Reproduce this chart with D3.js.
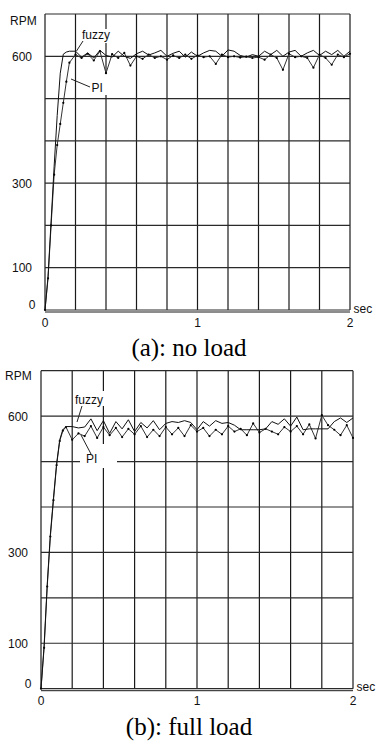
<!DOCTYPE html>
<html>
<head>
<meta charset="utf-8">
<script src="https://cdn.jsdelivr.net/npm/d3@7"></script>
<style>
body{margin:0;background:#fff}
svg{display:block}
.lbl{font-family:"Liberation Sans",Arial,sans-serif;font-size:12px;fill:#111}
.cap{font-family:"Liberation Serif","Times New Roman",serif;font-size:25px;fill:#000}
</style>
</head>
<body>
<script>
// sample times (sec), shared by all four curves
var times = [0,0.02,0.04,0.06,0.08,0.1,0.12,0.14,0.16,
  0.2,0.24,0.28,0.32,0.36,0.4,0.44,0.48,0.52,0.56,0.6,0.64,0.68,0.72,0.76,0.8,0.84,0.88,0.92,0.96,
  1,1.04,1.08,1.12,1.16,1.2,1.24,1.28,1.32,1.36,1.4,1.44,1.48,1.52,1.56,1.6,1.64,1.68,1.72,1.76,
  1.8,1.84,1.88,1.92,1.96,2]

// (a) no load, RPM
var fuzzyNoLoad = [0,80,210,340,460,560,605,610,612,
  612,598,608,596,614,602,598,612,600,595,606,612,603,608,614,600,607,612,598,610,
  600,608,614,612,600,615,612,602,598,604,600,612,604,614,600,610,614,600,608,614,
  602,612,604,614,600,612]
var piNoLoad = [0,75,200,320,390,440,490,540,585,
  604,596,606,590,612,560,605,596,608,578,600,594,604,596,600,592,602,596,604,594,
  602,598,600,582,604,598,600,597,599,596,598,592,604,596,568,606,598,600,596,573,
  604,596,580,604,598,606]

// (b) full load, RPM
var fuzzyFullLoad = [0,95,230,340,420,495,548,570,577,
  577,574,576,594,568,590,562,588,572,592,566,586,574,590,570,584,588,586,590,586,
  570,588,578,590,584,586,580,570,570,570,570,572,588,582,594,578,598,570,572,572,
  572,572,588,596,586,596]
var piFullLoad = [0,90,225,335,415,492,545,568,576,
  548,562,556,578,552,576,558,574,554,572,560,578,554,570,556,576,560,574,556,580,
  566,574,556,570,560,578,566,572,558,584,564,572,566,560,576,566,578,560,582,551,
  602,580,570,558,580,552]

var rpmLabels = [100,300,600]
var secLabels = [0,1,2]

var svg = d3.select("body").append("svg")
  .attr("width",377)
  .attr("height",742);

function drawPanel(p) {
  var x = d3.scaleLinear().domain([0,2]).range([p.left,p.right]);
  var y = d3.scaleLinear().domain([0,700]).range([p.bottom,p.top]);
  var g = svg.append("g");

  //grid and frame
  g.selectAll(".vgrid")
    .data(x.ticks(10))
    .enter().append("line")
      .attr("x1",function(d){return x(d)})
      .attr("x2",function(d){return x(d)})
      .attr("y1",p.top)
      .attr("y2",p.bottom)
      .attr("stroke","#1a1a1a")
      .attr("stroke-width",1.2);

  g.selectAll(".hgrid")
    .data(y.ticks(7))
    .enter().append("line")
      .attr("x1",p.left)
      .attr("x2",p.right)
      .attr("y1",function(d){return y(d)})
      .attr("y2",function(d){return y(d)})
      .attr("stroke","#2a2a2a")
      .attr("stroke-width",1.2);

  g.append("line")
    .attr("x1",p.left).attr("x2",p.right)
    .attr("y1",y(0)+2).attr("y2",y(0)+2)
    .attr("stroke","#1a1a1a").attr("stroke-width",1);

  //white boxes under the curve labels
  [p.fuzzyBox,p.piBox].forEach(function(b){
    g.append("rect")
      .attr("x",b[0]).attr("y",b[1])
      .attr("width",b[2]).attr("height",b[3])
      .attr("fill","#fff");
  });

  var line = d3.line()
    .x(function(d,i){return x(times[i])})
    .y(function(d){return y(d)});

  g.append("path")
    .datum(p.pi)
    .attr("d",line)
    .attr("fill","none")
    .attr("stroke","#333")
    .attr("stroke-width",1);

  g.selectAll(".dot")
    .data(p.pi)
    .enter().append("circle")
      .attr("cx",function(d,i){return x(times[i])})
      .attr("cy",function(d){return y(d)})
      .attr("r",1.1)
      .attr("fill","#000");

  g.append("path")
    .datum(p.fuzzy)
    .attr("d",line)
    .attr("fill","none")
    .attr("stroke","#111")
    .attr("stroke-width",1);

  //leaders + names
  [p.fuzzyLeader,p.piLeader].forEach(function(l){
    g.append("line")
      .attr("x1",l[0][0]).attr("y1",l[0][1])
      .attr("x2",l[1][0]).attr("y2",l[1][1])
      .attr("stroke","#222").attr("stroke-width",1);
  });
  g.append("text").attr("class","lbl")
    .attr("x",p.fuzzyText[0]).attr("y",p.fuzzyText[1]).text("fuzzy");
  g.append("text").attr("class","lbl")
    .attr("x",p.piText[0]).attr("y",p.piText[1]).text("PI");

  //axis labels
  g.selectAll(".ylab")
    .data(rpmLabels)
    .enter().append("text")
      .attr("class","lbl")
      .attr("x",p.left-13)
      .attr("y",function(d){return y(d)+4.5})
      .style("text-anchor","end")
      .text(function(d){return d});

  g.append("text").attr("class","lbl")
    .attr("x",p.left-9.5).attr("y",y(0)-1)
    .style("text-anchor","end").text("0");

  g.append("text").attr("class","lbl")
    .attr("x",p.rpmPos[0]).attr("y",p.rpmPos[1]).text("RPM");

  g.selectAll(".xlab")
    .data(secLabels)
    .enter().append("text")
      .attr("class","lbl")
      .attr("x",function(d){return x(d)})
      .attr("y",y(0)+16.5)
      .style("text-anchor","middle")
      .text(function(d){return d});

  g.append("text").attr("class","lbl")
    .attr("x",p.right+3.5).attr("y",y(0)+2.5).text("sec");

  g.append("text").attr("class","cap")
    .attr("x",189).attr("y",p.capY)
    .style("text-anchor","middle")
    .text(p.caption);
}

drawPanel({
  left:45, right:350, top:14, bottom:310,
  fuzzy:fuzzyNoLoad, pi:piNoLoad,
  caption:"(a): no load", capY:356,
  rpmPos:[10,25],
  fuzzyText:[82,39], piText:[91.5,91.5],
  fuzzyLeader:[[83,41],[76.5,51]], piLeader:[[90,87],[71,79]],
  fuzzyBox:[80,29,31,14], piBox:[86,73,24,22]
});

drawPanel({
  left:41, right:353, top:370.7, bottom:688.7,
  fuzzy:fuzzyFullLoad, pi:piFullLoad,
  caption:"(b): full load", capY:735,
  rpmPos:[5,380],
  fuzzyText:[75,404], piText:[86,463],
  fuzzyLeader:[[82,406],[77,422]], piLeader:[[91,454],[81,435]],
  fuzzyBox:[73,391,33,15], piBox:[80,444,37,24]
});
</script>
</body>
</html>
